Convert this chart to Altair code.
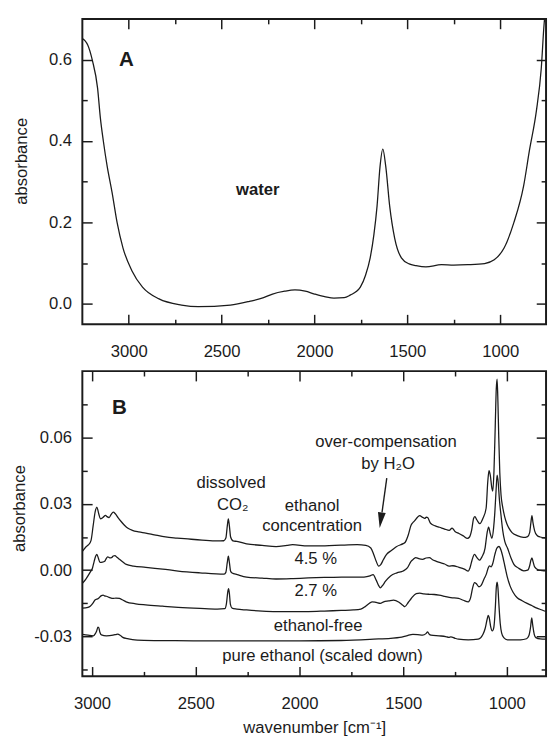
import altair as alt
import pandas as pd

FONT = "Liberation Sans"
INK = "#1b1b1b"

# ---------------- Panel A : water spectrum (wavenumber, absorbance) ----------------
water = [
    (3250, 0.652), (3235, 0.646), (3221, 0.636), (3196, 0.598), (3168, 0.530), (3153, 0.457),
    (3137, 0.400), (3116, 0.337), (3090, 0.274), (3063, 0.200), (3031, 0.137), (2984, 0.082),
    (2926, 0.041), (2837, 0.012), (2716, -0.003), (2626, -0.007), (2453, -0.003), (2350, 0.006),
    (2274, 0.015), (2226, 0.024), (2160, 0.031), (2105, 0.034), (2050, 0.031), (2000, 0.024),
    (1940, 0.017), (1895, 0.014), (1840, 0.015), (1805, 0.022), (1775, 0.030), (1753, 0.041),
    (1725, 0.070), (1700, 0.113), (1680, 0.170), (1663, 0.240), (1647, 0.337), (1632, 0.380),
    (1616, 0.337), (1595, 0.240), (1568, 0.161), (1532, 0.113), (1490, 0.098), (1453, 0.094),
    (1400, 0.091), (1316, 0.096), (1250, 0.095), (1174, 0.096), (1084, 0.099), (1032, 0.108),
    (979, 0.137), (926, 0.200), (874, 0.289), (842, 0.378), (805, 0.474), (779, 0.577),
    (763, 0.690), (750, 0.740),
]

# ---------------- Panel B : difference spectra ----------------
ethanol_45 = [
    (3047, 0.0085), (3030, 0.0105), (3017, 0.0115), (3005, 0.0135), (2995, 0.0200), (2985, 0.0265),
    (2977, 0.0285), (2968, 0.0255), (2960, 0.0232), (2948, 0.0238), (2935, 0.0248), (2928, 0.0242),
    (2918, 0.0238), (2908, 0.0252), (2898, 0.0262), (2888, 0.0255), (2875, 0.0238), (2860, 0.0220),
    (2844, 0.0203), (2825, 0.0188), (2806, 0.0180), (2775, 0.0173), (2741, 0.0168), (2700, 0.0160),
    (2646, 0.0150), (2590, 0.0145), (2538, 0.0141), (2470, 0.0136), (2396, 0.0132), (2365, 0.0133),
    (2355, 0.0145), (2348, 0.0200), (2343, 0.0232), (2338, 0.0200), (2332, 0.0150), (2320, 0.0132),
    (2302, 0.0130), (2255, 0.0119), (2180, 0.0112), (2113, 0.0106), (2060, 0.0112), (2033, 0.0115),
    (1960, 0.0110), (1877, 0.0110), (1800, 0.0113), (1722, 0.0115), (1680, 0.0112), (1656, 0.0100),
    (1642, 0.0071), (1630, 0.0040), (1618, 0.0018), (1608, 0.0025), (1595, 0.0048), (1580, 0.0071),
    (1555, 0.0090), (1533, 0.0106), (1500, 0.0120), (1491, 0.0125), (1475, 0.0160), (1462, 0.0203),
    (1450, 0.0218), (1443, 0.0225), (1430, 0.0240), (1420, 0.0247), (1408, 0.0240), (1396, 0.0234),
    (1388, 0.0240), (1382, 0.0238), (1368, 0.0212), (1345, 0.0200), (1325, 0.0194), (1300, 0.0186),
    (1278, 0.0180), (1264, 0.0190), (1250, 0.0175), (1231, 0.0166), (1210, 0.0155), (1190, 0.0144),
    (1180, 0.0150), (1170, 0.0180), (1160, 0.0235), (1154, 0.0242), (1145, 0.0228), (1130, 0.0210),
    (1115, 0.0235), (1100, 0.0280), (1092, 0.0400), (1086, 0.0450), (1080, 0.0430), (1072, 0.0370),
    (1068, 0.0357), (1062, 0.0450), (1056, 0.0650), (1051, 0.0820), (1047, 0.0864), (1043, 0.0760),
    (1039, 0.0600), (1034, 0.0440), (1028, 0.0340), (1020, 0.0285), (1010, 0.0240), (1000, 0.0210),
    (990, 0.0190), (975, 0.0170), (950, 0.0156), (920, 0.0148), (900, 0.0152), (890, 0.0170),
    (884, 0.0215), (879, 0.0247), (874, 0.0215), (866, 0.0178), (855, 0.0158), (840, 0.0150),
    (811, 0.0146),
]

ethanol_27 = [
    (3047, -0.0060), (3030, -0.0040), (3009, -0.0009), (2998, 0.0010), (2990, 0.0040), (2982, 0.0065),
    (2977, 0.0071), (2970, 0.0055), (2962, 0.0035), (2950, 0.0036), (2939, 0.0040), (2932, 0.0052),
    (2925, 0.0060), (2915, 0.0056), (2906, 0.0057), (2898, 0.0064), (2890, 0.0066), (2880, 0.0058),
    (2868, 0.0049), (2850, 0.0036), (2835, 0.0026), (2800, 0.0018), (2741, 0.0013), (2660, 0.0005),
    (2585, -0.0004), (2480, -0.0012), (2363, -0.0018), (2355, -0.0010), (2348, 0.0035), (2343, 0.0063),
    (2338, 0.0035), (2332, -0.0005), (2325, -0.0013), (2300, -0.0020), (2255, -0.0031), (2180, -0.0036),
    (2113, -0.0040), (2030, -0.0038), (1958, -0.0035), (1880, -0.0033), (1797, -0.0031), (1730, -0.0031),
    (1689, -0.0031), (1660, -0.0026), (1645, -0.0020), (1630, -0.0045), (1618, -0.0070), (1610, -0.0080),
    (1600, -0.0070), (1585, -0.0050), (1561, -0.0026), (1530, -0.0012), (1500, -0.0004), (1480, 0.0010),
    (1462, 0.0040), (1450, 0.0050), (1439, 0.0057), (1425, 0.0052), (1406, 0.0049), (1390, 0.0055),
    (1373, 0.0057), (1360, 0.0048), (1340, 0.0040), (1325, 0.0035), (1300, 0.0028), (1278, 0.0018),
    (1260, 0.0020), (1231, 0.0013), (1205, 0.0005), (1186, -0.0004), (1178, 0.0010), (1168, 0.0045),
    (1156, 0.0071), (1145, 0.0058), (1132, 0.0045), (1120, 0.0060), (1105, 0.0100), (1095, 0.0170),
    (1088, 0.0195), (1080, 0.0165), (1072, 0.0144), (1064, 0.0190), (1058, 0.0260), (1052, 0.0360),
    (1047, 0.0430), (1042, 0.0400), (1036, 0.0320), (1028, 0.0247), (1020, 0.0180), (1010, 0.0130),
    (997, 0.0100), (980, 0.0055), (966, 0.0026), (945, 0.0010), (918, -0.0003), (900, 0.0000),
    (890, 0.0020), (884, 0.0045), (879, 0.0056), (874, 0.0040), (866, 0.0015), (850, 0.0002),
    (830, -0.0002), (811, -0.0003),
]

ethanol_free = [
    (3047, -0.0172), (3020, -0.0168), (3009, -0.0163), (2995, -0.0148), (2986, -0.0135), (2970, -0.0128),
    (2955, -0.0115), (2947, -0.0113), (2940, -0.0116), (2931, -0.0118), (2915, -0.0124), (2899, -0.0128),
    (2885, -0.0126), (2868, -0.0128), (2850, -0.0136), (2836, -0.0143), (2790, -0.0152), (2742, -0.0157),
    (2660, -0.0163), (2585, -0.0168), (2480, -0.0173), (2396, -0.0176), (2360, -0.0174), (2352, -0.0150),
    (2346, -0.0100), (2342, -0.0084), (2338, -0.0105), (2333, -0.0155), (2325, -0.0172), (2302, -0.0176),
    (2255, -0.0180), (2180, -0.0185), (2113, -0.0187), (1956, -0.0187), (1880, -0.0185), (1799, -0.0182),
    (1740, -0.0180), (1704, -0.0176), (1685, -0.0166), (1673, -0.0157), (1660, -0.0148), (1650, -0.0143),
    (1630, -0.0146), (1610, -0.0150), (1594, -0.0143), (1570, -0.0139), (1547, -0.0135), (1520, -0.0145),
    (1500, -0.0160), (1492, -0.0165), (1475, -0.0145), (1461, -0.0128), (1437, -0.0106), (1420, -0.0104),
    (1400, -0.0107), (1374, -0.0109), (1350, -0.0110), (1327, -0.0113), (1300, -0.0118), (1270, -0.0124),
    (1233, -0.0128), (1210, -0.0136), (1186, -0.0143), (1175, -0.0125), (1165, -0.0080), (1156, -0.0056),
    (1148, -0.0060), (1135, -0.0075), (1125, -0.0070), (1110, -0.0040), (1099, -0.0018), (1090, 0.0010),
    (1083, 0.0019), (1076, 0.0015), (1068, 0.0030), (1058, 0.0070), (1048, 0.0100), (1038, 0.0107),
    (1028, 0.0090), (1018, 0.0055), (1010, 0.0020), (998, -0.0030), (985, -0.0070), (970, -0.0100),
    (950, -0.0125), (926, -0.0138), (902, -0.0150), (880, -0.0160), (855, -0.0172), (830, -0.0180),
    (811, -0.0187),
]

pure_ethanol = [
    (3047, -0.0290), (3020, -0.0294), (2994, -0.0297), (2985, -0.0288), (2978, -0.0275), (2972, -0.0258),
    (2968, -0.0260), (2962, -0.0282), (2955, -0.0293), (2931, -0.0297), (2899, -0.0294), (2885, -0.0291),
    (2876, -0.0289), (2865, -0.0294), (2852, -0.0304), (2830, -0.0310), (2805, -0.0314), (2750, -0.0317),
    (2600, -0.0319), (2400, -0.0320), (2200, -0.0320), (2000, -0.0320), (1800, -0.0318), (1642, -0.0312),
    (1560, -0.0308), (1516, -0.0304), (1484, -0.0297), (1453, -0.0290), (1430, -0.0291), (1406, -0.0294),
    (1390, -0.0287), (1382, -0.0279), (1374, -0.0290), (1366, -0.0294), (1327, -0.0297), (1295, -0.0300),
    (1280, -0.0304), (1270, -0.0302), (1250, -0.0308), (1233, -0.0312), (1186, -0.0315), (1138, -0.0312),
    (1115, -0.0290), (1105, -0.0265), (1095, -0.0222), (1090, -0.0205), (1085, -0.0215), (1078, -0.0255),
    (1070, -0.0275), (1063, -0.0260), (1055, -0.0160), (1051, -0.0080), (1047, -0.0054), (1043, -0.0080),
    (1038, -0.0160), (1032, -0.0240), (1025, -0.0285), (1015, -0.0305), (997, -0.0315), (934, -0.0315),
    (905, -0.0310), (894, -0.0297), (886, -0.0260), (880, -0.0216), (875, -0.0250), (868, -0.0290),
    (860, -0.0305), (840, -0.0311), (811, -0.0312),
]

# axis tick values (major + minor)
a_x_ticks = [3000, 2750, 2500, 2250, 2000, 1750, 1500, 1250, 1000]
a_y_ticks = [0.0, 0.1, 0.2, 0.3, 0.4, 0.5, 0.6]
b_x_ticks = [3000, 2750, 2500, 2250, 2000, 1750, 1500, 1250, 1000]
b_y_ticks = [-0.045, -0.03, -0.015, 0.0, 0.015, 0.03, 0.045, 0.06, 0.075]

# annotations
a_text = ["A", "water"]
a_text_wn = [3013, 2305]
a_text_ab = [0.600, 0.279]
a_text_size = [21, 17]

b_bold = ["B"]
b_bold_wn = [2868]
b_bold_ab = [0.0732]

b_text = ["dissolved", "CO\u2082", "ethanol", "concentration", "4.5 %", "2.7 %", "ethanol-free",
          "pure ethanol (scaled down)", "over-compensation", "by H\u2082O"]
b_text_wn = [2330, 2322, 1939, 1939, 1922, 1922, 1910, 1889, 1583, 1573]
b_text_ab = [0.0392, 0.0295, 0.0291, 0.0198, 0.0049, -0.0095, -0.0251, -0.0388, 0.0578, 0.0481]

arrow_wn = [1579, 1602]
arrow_ab = [0.0416, 0.0261]
arrow_head_wn = [1608]
arrow_head_ab = [0.0226]

# ------------------------------------------------------------------
XT = "datum.value % 500 === 0"
AYT = "abs(datum.value * 5 - round(datum.value * 5)) < 1e-6"
BYT = "abs(datum.value / 0.03 - round(datum.value / 0.03)) < 1e-6"


def tsize(test):
    return {"condition": {"test": test, "value": -10}, "value": -5}


def lab_axis(orient, values, test, fmt, pad, **kw):
    return alt.Axis(orient=orient, values=values, domain=False, grid=False,
                    tickSize=tsize(test), tickColor=INK, tickWidth=1.5,
                    labelExpr=f"({test}) ? replace(format(datum.value, '{fmt}'), '\u2212', '-') : ''",
                    labelFont=FONT, labelFontSize=17, labelColor=INK, labelPadding=pad,
                    labelOverlap=False, labelFlush=False,
                    titleFont=FONT, titleFontSize=17, titleFontWeight="normal", titleColor=INK, **kw)


def tick_axis(orient, values, test):
    return alt.Axis(orient=orient, values=values, domain=False, grid=False, labels=False,
                    tickSize=tsize(test), tickColor=INK, tickWidth=1.5, title=None)


W, H = 474, 312


def panel(lines_df, xdom, ydom, xt, yt, ytest, yfmt, xtitle, ytx, yty, texts):
    xs = alt.Scale(domain=xdom, reverse=True, nice=False, zero=False)
    ys = alt.Scale(domain=ydom, nice=False, zero=False)
    if xtitle:
        xax = lab_axis("bottom", xt, XT, "d", 30, title=xtitle, titlePadding=3)
    else:
        xax = lab_axis("bottom", xt, XT, "d", 30, title=None)
    yax = lab_axis("left", yt, ytest, yfmt, 21, title="absorbance", titleX=ytx, titleY=yty,
                   titleBaseline="alphabetic", titleAngle=270)
    line = alt.Chart(lines_df).mark_line(color=INK, strokeWidth=1.3, interpolate="monotone",
                                         clip=True).encode(
        x=alt.X("wn:Q", scale=xs, axis=xax),
        y=alt.Y("ab:Q", scale=ys, axis=yax),
        detail="series:N",
    )
    dummy = alt.Chart(lines_df).mark_line(opacity=0, clip=True).encode(
        x=alt.X("wn:Q", scale=xs, axis=tick_axis("top", xt, XT)),
        y=alt.Y("ab:Q", scale=ys, axis=tick_axis("right", yt, ytest)),
        detail="series:N",
    )
    layers = [line, dummy] + [t(xs, ys) for t in texts]
    return alt.layer(*layers).resolve_axis(x="independent", y="independent").properties(
        width=W, height=H)


def text_layer(df, weight):
    def make(xs, ys):
        return alt.Chart(df).mark_text(font=FONT, fontWeight=weight, color=INK, align="center",
                                       baseline="middle").encode(
            x=alt.X("wn:Q", scale=xs, axis=None),
            y=alt.Y("ab:Q", scale=ys, axis=None),
            text="label:N",
            size=alt.Size("fs:Q", scale=None, legend=None),
        )
    return make


# ---- data frames
dfA = pd.DataFrame(water, columns=["wn", "ab"])
dfA["series"] = "water"

frames = []
for name, rows in [("4.5", ethanol_45), ("2.7", ethanol_27), ("free", ethanol_free),
                   ("pure", pure_ethanol)]:
    d = pd.DataFrame(rows, columns=["wn", "ab"])
    d["series"] = name
    frames.append(d)
dfB = pd.concat(frames, ignore_index=True)

dfA_txt = pd.DataFrame({"label": a_text, "wn": a_text_wn, "ab": a_text_ab, "fs": a_text_size})
dfB_bold = pd.DataFrame({"label": b_bold, "wn": b_bold_wn, "ab": b_bold_ab, "fs": [21]})
dfB_txt = pd.DataFrame({"label": b_text, "wn": b_text_wn, "ab": b_text_ab,
                        "fs": [17] * len(b_text)})
dfArrow = pd.DataFrame({"wn": [arrow_wn[0]], "ab": [arrow_ab[0]],
                        "wn2": [arrow_wn[1]], "ab2": [arrow_ab[1]]})
dfHead = pd.DataFrame({"wn": arrow_head_wn, "ab": arrow_head_ab})


def arrow_layer(xs, ys):
    return alt.Chart(dfArrow).mark_rule(color=INK, strokeWidth=1.4).encode(
        x=alt.X("wn:Q", scale=xs, axis=None), y=alt.Y("ab:Q", scale=ys, axis=None),
        x2="wn2:Q", y2="ab2:Q")


def head_layer(xs, ys):
    return alt.Chart(dfHead).mark_point(shape="M-0.5,-1L0.5,-1L0,1Z", filled=True, size=256,
                                        angle=8, color=INK, opacity=1).encode(
        x=alt.X("wn:Q", scale=xs, axis=None), y=alt.Y("ab:Q", scale=ys, axis=None))


panelA = panel(dfA, [753, 3250], [-0.05, 0.70], a_x_ticks, a_y_ticks, AYT, ".1f", None,
               -57, 145, [text_layer(dfA_txt, "bold")])
panelB = panel(dfB, [811, 3047], [-0.048, 0.09], b_x_ticks, b_y_ticks, BYT, ".2f",
               "wavenumber [cm\u207b\u00b9]", -59, 140,
               [text_layer(dfB_bold, "bold"), text_layer(dfB_txt, "normal"), arrow_layer, head_layer])

chart = alt.vconcat(panelA, panelB, spacing=4).properties(
    padding={"left": 2, "top": 1, "right": 0, "bottom": 0}
).configure_view(stroke=INK, strokeWidth=2)

chart.save("out.html", embed_options={"renderer": "svg", "actions": False})
